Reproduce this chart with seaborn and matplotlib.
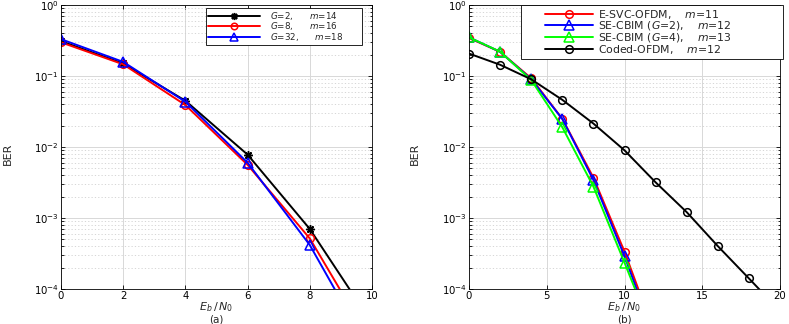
import numpy as np
import pandas as pd
import seaborn as sns
import matplotlib
matplotlib.use("Agg")
import matplotlib.pyplot as plt
from matplotlib.ticker import LogLocator, NullFormatter

# ---- data ----
snr_a = [0, 2, 4, 6, 8, 10]
ber_g2 = [0.31, 0.15, 0.0448, 0.0078, 7.0e-4, 3.3e-5]
ber_g8 = [0.298, 0.146, 0.039, 0.0056, 5.15e-4, 1.7e-5]
ber_g32 = [0.33, 0.158, 0.0434, 0.006, 4.16e-4, 1.17e-5]
labels_a = [r"$G$=2,      $m$=14", r"$G$=8,      $m$=16", r"$G$=32,      $m$=18"]

snr_b = [0, 2, 4, 6, 8, 10, 12]
ber_esvc = [0.343, 0.219, 0.0928, 0.025, 0.0037, 3.36e-4, 2.2e-5]
ber_cbim2 = [0.35, 0.219, 0.09, 0.0248, 0.00343, 2.9e-4, 1.9e-5]
ber_cbim4 = [0.35, 0.22, 0.088, 0.019, 0.00277, 2.35e-4, 1.9e-5]
snr_ofdm = [0, 2, 4, 6, 8, 10, 12, 14, 16, 18, 20]
ber_ofdm = [0.207, 0.144, 0.0898, 0.0462, 0.0214, 0.00898, 0.00318,
            0.00121, 4.02e-4, 1.41e-4, 4.9e-5]
labels_b = [r"E-SVC-OFDM,    $m$=11", r"SE-CBIM ($G$=2),    $m$=12",
            r"SE-CBIM ($G$=4),    $m$=13", r"Coded-OFDM,    $m$=12"]

sns.set_style("ticks")
plt.rcParams["font.family"] = ["DejaVu Sans"]
plt.rcParams["mathtext.fontset"] = "custom"
plt.rcParams["mathtext.rm"] = "DejaVu Sans"
plt.rcParams["mathtext.it"] = "DejaVu Sans:italic"

fig = plt.figure(figsize=(7.89, 3.24), dpi=100)
ax1 = fig.add_axes([61 / 789, 35 / 324, 311 / 789, 284 / 324])
ax2 = fig.add_axes([469 / 789, 35 / 324, 311 / 789, 284 / 324])


def draw(ax, x, y, color, marker, label, ms=6):
    df = pd.DataFrame({"x": x, "y": y})
    sns.lineplot(data=df, x="x", y="y", ax=ax, color=color, marker=marker,
                 markersize=ms, markerfacecolor="none", markeredgecolor=color,
                 markeredgewidth=1.1, linewidth=1.4, label=label, sort=False)


draw(ax1, snr_a, ber_g2, "black", (8, 2, 0), labels_a[0], ms=6)
draw(ax1, snr_a, ber_g8, "red", "o", labels_a[1], ms=5.5)
draw(ax1, snr_a, ber_g32, "blue", "^", labels_a[2], ms=6.5)

draw(ax2, snr_b, ber_esvc, "red", "o", labels_b[0], ms=5.5)
draw(ax2, snr_b, ber_cbim2, "blue", "^", labels_b[1], ms=6.5)
draw(ax2, snr_b, ber_cbim4, "#00ff00", "^", labels_b[2], ms=6.5)
draw(ax2, snr_ofdm, ber_ofdm, "black", "o", labels_b[3], ms=5.5)

for ax, xmax, xt, tag, ylx in [(ax1, 10, [0, 2, 4, 6, 8, 10], "(a)", -0.17),
                               (ax2, 20, [0, 5, 10, 15, 20], "(b)", -0.174)]:
    ax.set_yscale("log")
    ax.set_ylim(1e-4, 1)
    ax.set_xlim(0, xmax)
    ax.set_xticks(xt)
    ax.yaxis.set_major_locator(LogLocator(base=10, numticks=10))
    ax.yaxis.set_minor_locator(LogLocator(base=10, subs=np.arange(2, 10), numticks=20))
    ax.yaxis.set_minor_formatter(NullFormatter())
    ax.grid(True, which="major", color="#d8d8d8", linewidth=0.7, linestyle="-")
    ax.grid(True, which="minor", axis="y", color="#d0d0d0", linewidth=0.6,
            linestyle=(0, (1.5, 2.5)))
    ax.set_axisbelow(True)
    ax.tick_params(which="both", direction="in", top=True, right=True,
                   labelsize=7.3, width=0.6, colors="black", pad=1.5)
    ax.tick_params(which="major", length=3)
    ax.tick_params(which="minor", length=1.8)
    for s in ax.spines.values():
        s.set_linewidth(0.6)
        s.set_color("black")
    ax.set_ylabel("")
    ax.set_xlabel("")
    ax.text(ylx, 0.475, "BER", transform=ax.transAxes, rotation=90,
            ha="center", va="center", fontsize=8)
    ax.text(0.5, -18.5 / 284, r"$E_b\,/\,N_0$", transform=ax.transAxes,
            ha="center", va="center", fontsize=8)
    ax.text(0.5, -30.5 / 284, tag, transform=ax.transAxes, ha="center",
            va="center", fontsize=7.5)


def shift_handles(leg, pts):
    # push the start of each legend line to the right, keep marker centred
    for ln in leg.get_lines():
        x = ln.get_xdata()
        x0 = x[0] + pts
        ln.set_xdata([x0, (x0 + x[-1]) / 2, x[-1]])


leg1 = ax1.legend(loc="upper left",
                  bbox_to_anchor=((206 - 61) / 311, 1 - 3 / 284, 156 / 311, 0),
                  mode="expand", fontsize=6.3, handlelength=6.0,
                  labelspacing=-0.15, borderpad=0.2, handletextpad=1.1,
                  fancybox=False, edgecolor="black", framealpha=1,
                  borderaxespad=0, markerscale=0.85)
leg1.get_frame().set_linewidth(0.6)

leg2 = ax2.legend(loc="upper left",
                  bbox_to_anchor=((521 - 469) / 311, 1.0, 262 / 311, 0),
                  mode="expand", fontsize=7.8, handlelength=6.4,
                  labelspacing=-0.12, borderpad=0.25, handletextpad=0.45,
                  fancybox=False, edgecolor="black", framealpha=1,
                  borderaxespad=0)
leg2.get_frame().set_linewidth(0.6)
shift_handles(leg2, 15.0)

fig.savefig("out.png", dpi=100)
